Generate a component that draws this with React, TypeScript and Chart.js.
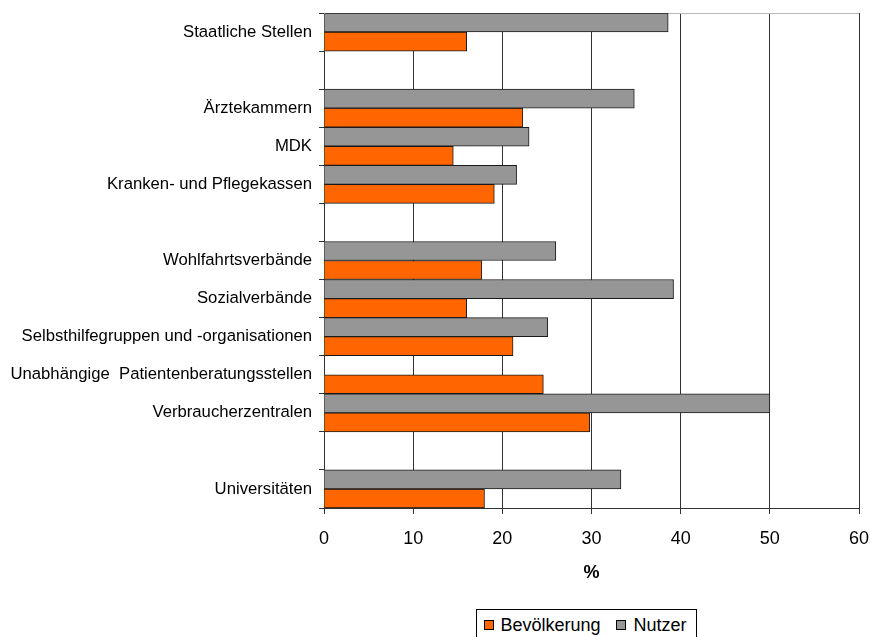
import React, { useEffect, useRef } from 'react';
import { Chart, registerables } from 'chart.js';

Chart.register(...registerables);

const FONT = '"Liberation Sans", Arial, sans-serif';

// Categories top to bottom; empty strings are spacer rows between groups
const categories = [
  'Staatliche Stellen',
  '',
  'Ärztekammern',
  'MDK',
  'Kranken- und Pflegekassen',
  '',
  'Wohlfahrtsverbände',
  'Sozialverbände',
  'Selbsthilfegruppen und -organisationen',
  'Unabhängige  Patientenberatungsstellen',
  'Verbraucherzentralen',
  '',
  'Universitäten',
];

// Shares in percent
const nutzer = [38.6, null, 34.8, 23.0, 21.6, null, 26.0, 39.2, 25.1, null, 50.0, null, 33.3];
const bevoelkerung = [16.0, null, 22.3, 14.5, 19.1, null, 17.7, 16.0, 21.2, 24.6, 29.8, null, 18.0];

const xTicks = [0, 10, 20, 30, 40, 50, 60];

const seriesNames = ['Bevölkerung', 'Nutzer'];
const seriesColors = ['#FF6600', '#969696'];

// Thin light line along the top edge of the plot area
const plotFrame = {
  id: 'plotFrame',
  beforeDatasetsDraw(chart: any) {
    const { ctx, chartArea } = chart;
    ctx.save();
    ctx.strokeStyle = '#b8b8b8';
    ctx.lineWidth = 1;
    ctx.beginPath();
    ctx.moveTo(chartArea.left, Math.round(chartArea.top) + 0.5);
    ctx.lineTo(chartArea.right, Math.round(chartArea.top) + 0.5);
    ctx.stroke();
    ctx.restore();
  },
};

export default function App() {
  const canvasRef = useRef<HTMLCanvasElement | null>(null);

  useEffect(() => {
    if (!canvasRef.current) return;
    const chart = new Chart(canvasRef.current, {
      type: 'bar',
      data: {
        labels: categories,
        datasets: [
          {
            label: seriesNames[1],
            data: nutzer,
            backgroundColor: seriesColors[1],
            borderColor: '#1a1a1a',
            borderWidth: 1,
            barPercentage: 1,
            categoryPercentage: 1,
          },
          {
            label: seriesNames[0],
            data: bevoelkerung,
            backgroundColor: seriesColors[0],
            borderColor: '#1a1a1a',
            borderWidth: 1,
            barPercentage: 1,
            categoryPercentage: 1,
          },
        ],
      },
      options: {
        indexAxis: 'y',
        responsive: false,
        animation: false,
        layout: { padding: { top: 13, right: 11, left: 0, bottom: 0 } },
        plugins: {
          legend: { display: false },
          tooltip: { enabled: false },
        },
        scales: {
          x: {
            min: 0,
            max: 60,
            afterBuildTicks: (scale: any) => {
              scale.ticks = xTicks.map((v) => ({ value: v }));
            },
            afterFit: (scale: any) => {
              scale.height = 129;
              scale.paddingLeft = 0;
              scale.paddingRight = 0;
            },
            ticks: {
              color: '#000',
              font: { family: FONT, size: 18 },
              padding: 14,
              maxRotation: 0,
            },
            grid: {
              color: '#333',
              lineWidth: 1,
              tickLength: 6,
              drawOnChartArea: true,
            },
            border: { display: true, color: '#333' },
            title: {
              display: true,
              text: '%',
              color: '#000',
              font: { family: FONT, size: 18, weight: 'bold' },
              padding: { top: 0, bottom: 53 },
            },
          },
          y: {
            afterFit: (scale: any) => {
              scale.width = 324;
              scale.paddingTop = 0;
              scale.paddingBottom = 0;
            },
            ticks: {
              color: '#000',
              font: { family: FONT, size: 16.7 },
              padding: 7,
              autoSkip: false,
            },
            grid: {
              drawOnChartArea: false,
              drawTicks: true,
              tickLength: 5,
              color: '#333',
              offset: true,
            },
            border: { display: true, color: '#333' },
          },
        },
      },
      plugins: [plotFrame],
    } as any);
    return () => chart.destroy();
  }, []);

  const legendText: React.CSSProperties = {
    position: 'absolute',
    top: 615,
    fontFamily: FONT,
    fontSize: 18,
    lineHeight: '20px',
    color: '#000',
    whiteSpace: 'nowrap',
  };
  const swatch = (color: string, left: number): React.CSSProperties => ({
    position: 'absolute',
    left,
    top: 620,
    width: 10,
    height: 10,
    boxSizing: 'border-box',
    border: '1px solid #000',
    background: color,
  });

  return (
    <div
      style={{
        position: 'fixed',
        left: 0,
        top: 0,
        width: 870,
        height: 637,
        overflow: 'hidden',
        background: '#fff',
      }}
    >
      <canvas ref={canvasRef} width={870} height={637} style={{ display: 'block' }} />
      <div
        style={{
          position: 'absolute',
          left: 476,
          top: 609,
          width: 221,
          height: 40,
          boxSizing: 'border-box',
          border: '1px solid #000',
          background: '#fff',
        }}
      />
      <div style={swatch(seriesColors[0], 484)} />
      <span style={{ ...legendText, left: 500.5 }}>{seriesNames[0]}</span>
      <div style={swatch(seriesColors[1], 616)} />
      <span style={{ ...legendText, left: 633.6 }}>{seriesNames[1]}</span>
    </div>
  );
}
